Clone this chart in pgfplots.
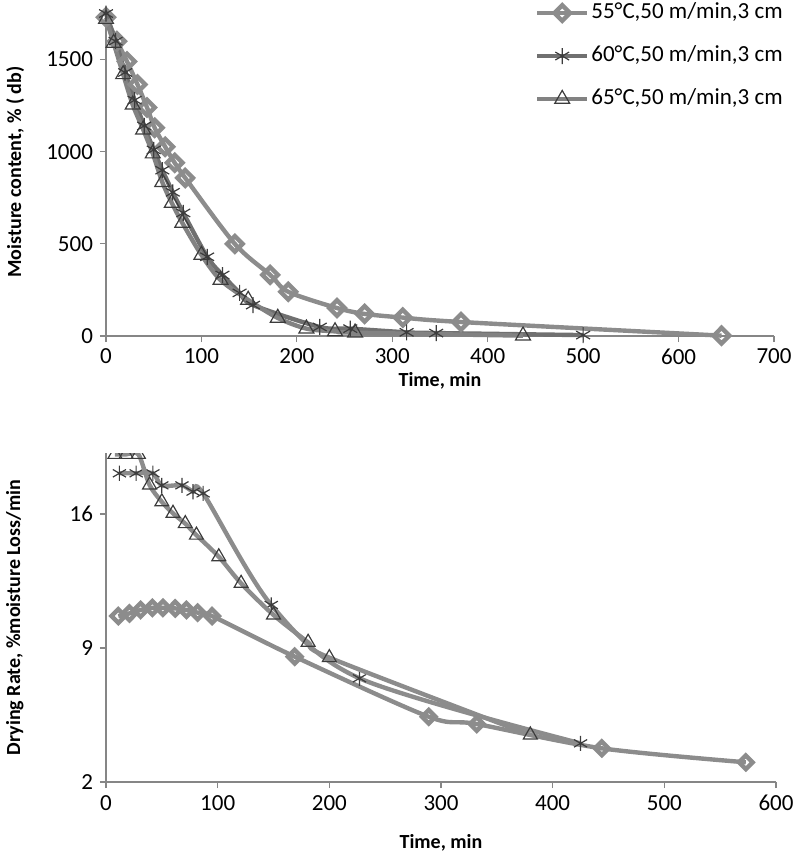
\documentclass[border=0pt]{standalone}
\usepackage{fontspec}
\setmainfont{Carlito}
\usepackage{pgfplots}
\pgfplotsset{compat=1.18}

\definecolor{axisgray}{HTML}{868686}
\definecolor{lineA}{HTML}{8C8C8C}
\definecolor{lineB}{HTML}{707070}
\definecolor{lineC}{HTML}{828282}
\definecolor{markgray}{HTML}{3C3C3C}

\pgfplotsset{
  excel/.style={
    scale only axis,
    axis lines*=left,
    axis line style={draw=axisgray, line width=0.6pt},
    tick style={draw=axisgray, line width=0.6pt},
    tick align=outside,
    major tick length=3pt,
    /pgf/number format/assume math mode=true,
    /pgf/number format/1000 sep={},
    xlabel style={font=\bfseries, anchor=center},
    ylabel style={font=\bfseries, anchor=center},
  },
  ser/.style={line width=2.2pt, color=#1, smooth, tension=0.5,
    mark options={draw=markgray, fill=white, line width=0.6pt, solid}},
  dia/.style={mark=diamond, mark size=3.9pt, mark options={xscale=1.33}},
  ast/.style={mark=asterisk, mark size=4pt},
  tri/.style={mark=triangle, mark size=4.3pt},
}

% top chart: moisture content
\pgfplotstableread{
t    mc
0    1730
11.5 1600
22   1490
33   1365
43   1240
51   1130
62   1027
72   940
83   858
135  500
172  332
191  240
242  152
271  120
311  100
372  76
645  2
}\mcA
\pgfplotstableread{
t    mc
0    1750
10   1600
20   1430
30   1280
40   1140
50   1010
59   900
70   780
81   668
106  430
122  331
140  234
154  168
224  49
256  40
315  20
346  16
500  5
}\mcB
\pgfplotstableread{
t    mc
0    1720
8    1590
18   1420
28   1255
39   1120
49   990
59   835
69   722
80   614
100  440
120  304
149  196
180  98
210  40
240  25
261  18
437  2
}\mcC

% bottom chart: drying rate
\pgfplotstableread{
t    dr
11   10.67
21   10.81
31   10.99
41.5 11.10
51   11.10
62   11.07
72   10.99
82   10.85
95   10.67
169  8.55
289  5.41
332  5.03
444  3.76
573  3.03
}\drA
\pgfplotstableread{
t    dr
12   18.13
27   18.13
42   18.13
50   17.50
68   17.50
78   17.17
87   17.08
148  11.25
227  7.42
425  4.02
}\drB
\pgfplotstableread{
t    dr
8    19.12
18   19.12
29   19.12
39   17.52
50   16.64
60   16.04
71   15.50
81   14.90
101  13.77
121  12.38
150  10.73
181  9.30
200  8.50
380  4.46
}\drC

\begin{document}
\begin{tikzpicture}[font=\fontsize{11.5}{13.8}\selectfont]
\path[use as bounding box] (0,0) rectangle (396.5pt,-428.5pt);

\begin{axis}[excel,
  at={(53pt,-168pt)}, anchor=south west,
  width=334pt, height=164pt,
  xmin=0, xmax=700, ymin=0, ymax=1780,
  xtick={0,100,...,700}, ytick={0,500,1000,1500},
  clip=false,
  xlabel={Time, min},
  ylabel={Moisture content, \% ( db)},
  xlabel style={at={(axis description cs:0.5,-0.137)}},
  ylabel style={at={(axis description cs:-0.136,0.5)}},
  legend style={at={(axis description cs:1.0165,1.024)}, anchor=north east,
    draw=none, fill=none, inner sep=0pt, row sep=9pt,
    nodes={inner sep=1pt, text height=8pt, text depth=2.5pt, anchor=west}},
  legend cell align=left,
  legend image code/.code={\draw[mark repeat=2, mark phase=2, #1] plot coordinates {(0pt,0pt) (12.5pt,0pt) (25pt,0pt)};},
]
\addplot[ser=lineA, dia] table[x=t,y=mc]{\mcA};
\addlegendentry{55°C,50 m/min,3 cm}
\addplot[ser=lineB, ast] table[x=t,y=mc]{\mcB};
\addlegendentry{60°C,50 m/min,3 cm}
\addplot[ser=lineC, tri] table[x=t,y=mc]{\mcC};
\addlegendentry{65°C,50 m/min,3 cm}
\end{axis}

\begin{axis}[excel,
  at={(53pt,-391pt)}, anchor=south west,
  width=335pt, height=164.5pt,
  xmin=0, xmax=600, ymin=2, ymax=19.19,
  xtick={0,100,...,600}, ytick={2,9,16},
  clip=true, clip marker paths=true,
  xlabel={Time, min},
  ylabel={Drying Rate, \%moisture Loss/min},
  xlabel style={at={(axis description cs:0.5,-0.185)}},
  ylabel style={at={(axis description cs:-0.136,0.5)}},
]
\addplot[ser=lineA, dia, mark size=3.4pt] table[x=t,y=dr]{\drA};
\addplot[ser=lineA, ast, mark size=3.8pt] table[x=t,y=dr]{\drB};
\addplot[ser=lineA, tri, mark size=4pt] table[x=t,y=dr]{\drC};
\end{axis}
\end{tikzpicture}
\end{document}
